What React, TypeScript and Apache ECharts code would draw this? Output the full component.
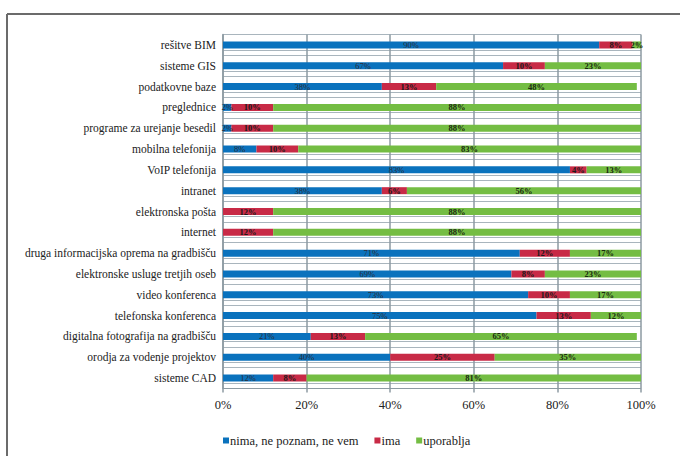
import React, { useEffect, useRef } from "react";
import * as echarts from "echarts";

// Rows, top to bottom
const categories = [
  "rešitve BIM",
  "sisteme GIS",
  "podatkovne baze",
  "preglednice",
  "programe za urejanje besedil",
  "mobilna telefonija",
  "VoIP telefonija",
  "intranet",
  "elektronska pošta",
  "internet",
  "druga informacijska oprema na gradbišču",
  "elektronske usluge tretjih oseb",
  "video konferenca",
  "telefonska konferenca",
  "digitalna fotografija na gradbišču",
  "orodja za vodenje projektov",
  "sisteme CAD",
];

const nimaValues = [90, 67, 38, 2, 2, 8, 83, 38, 0, 0, 71, 69, 73, 75, 21, 40, 12];
const imaValues = [8, 10, 13, 10, 10, 10, 4, 6, 12, 12, 12, 8, 10, 13, 13, 25, 8];
const uporabljaValues = [2, 23, 48, 88, 88, 83, 13, 56, 88, 88, 17, 23, 17, 12, 65, 35, 81];

const seriesNames = ["nima, ne poznam, ne vem", "ima", "uporablja"];
const xTicks = [0, 20, 40, 60, 80, 100];

const SERIF = "'Liberation Serif', 'DejaVu Serif', serif";

// plot layout
const TOP = 34.5;
const BOTTOM = 67.5;
const HEIGHT = 456 - TOP - BOTTOM;
const BAND = HEIGHT / categories.length;
// a second, offset grid whose split lines sit just beneath each bar
const RULE_TOP = TOP + BAND * 0.5 + BAND * 0.25;
const RULE_HEIGHT = BAND * (categories.length - 1);

export default function App() {
  const ref = useRef<HTMLDivElement>(null);

  useEffect(() => {
    document.body.style.margin = "0";
    if (!ref.current) return;
    const chart = echarts.init(ref.current, undefined, { renderer: "svg" });

    const pctLabel = (color: string, weight: string) => ({
      show: true,
      position: "inside" as const,
      fontFamily: SERIF,
      fontSize: 8.5,
      fontWeight: weight,
      color,
      formatter: (p: any) => (p.value ? p.value + "%" : ""),
    });

    const gridColor = "#a9b5bd";

    chart.setOption({
      animation: false,
      backgroundColor: "#ffffff",
      textStyle: { fontFamily: SERIF },
      graphic: [
        {
          type: "line",
          shape: { x1: 7, y1: 14, x2: 680, y2: 14 },
          style: { stroke: "#6b6b6b", lineWidth: 2 },
        },
        {
          type: "line",
          shape: { x1: 7, y1: 14, x2: 7, y2: 456 },
          style: { stroke: "#6b6b6b", lineWidth: 2 },
        },
      ],
      grid: [
        { left: 223, right: 39, top: TOP, bottom: BOTTOM, containLabel: false },
        {
          left: 223,
          right: 39,
          top: RULE_TOP,
          height: RULE_HEIGHT,
          containLabel: false,
        },
      ],
      legend: {
        data: seriesNames,
        left: 218,
        top: 429,
        itemWidth: 6,
        itemHeight: 6,
        itemGap: 16,
        icon: "rect",
        textStyle: {
          fontFamily: SERIF,
          fontSize: 12.5,
          color: "#222",
          padding: [0, 0, 0, -4],
        },
      },
      xAxis: [
        {
          type: "value",
          gridIndex: 0,
          min: 0,
          max: 100,
          interval: 20,
          axisLabel: {
            formatter: (v: number) => (xTicks.includes(v) ? v + "%" : ""),
            fontFamily: SERIF,
            fontSize: 12.5,
            color: "#222",
            margin: 10,
          },
          axisLine: { show: true, lineStyle: { color: "#8c9aa2", width: 1 } },
          axisTick: { show: true, length: 4, lineStyle: { color: "#8c9aa2", width: 1.5 } },
          splitLine: { show: true, lineStyle: { color: "#8c9aa2", width: 1.5 } },
          z: 3,
        },
        {
          type: "value",
          gridIndex: 1,
          min: 0,
          max: 100,
          show: false,
          splitLine: { show: false },
        },
      ],
      yAxis: [
        {
          type: "category",
          gridIndex: 0,
          data: categories,
          inverse: true,
          axisLabel: { fontFamily: SERIF, fontSize: 11.5, color: "#222", margin: 7 },
          axisLine: { show: true, lineStyle: { color: "#8c9aa2", width: 1.5 } },
          axisTick: { show: false },
          splitLine: { show: true, lineStyle: { color: gridColor, width: 1 } },
        },
        {
          type: "category",
          gridIndex: 1,
          data: categories.slice(1),
          inverse: true,
          axisLabel: { show: false },
          axisLine: { show: false },
          axisTick: { show: false },
          splitLine: { show: true, lineStyle: { color: gridColor, width: 1 } },
        },
      ],
      series: [
        {
          name: seriesNames[0],
          type: "bar",
          stack: "total",
          barWidth: 7,
          itemStyle: { color: "#0a72bd" },
          label: pctLabel("#2a2e36", "normal"),
          data: nimaValues,
          z: 4,
        },
        {
          name: seriesNames[1],
          type: "bar",
          stack: "total",
          barWidth: 7,
          itemStyle: { color: "#c82a46" },
          label: pctLabel("#1a1a1a", "bold"),
          data: imaValues,
          z: 4,
        },
        {
          name: seriesNames[2],
          type: "bar",
          stack: "total",
          barWidth: 7,
          itemStyle: { color: "#74bd43" },
          label: pctLabel("#1a2a10", "bold"),
          data: uporabljaValues,
          z: 4,
        },
      ],
    });

    return () => chart.dispose();
  }, []);

  return (
    <div
      ref={ref}
      style={{ position: "absolute", left: 0, top: 0, width: 680, height: 456 }}
    />
  );
}
